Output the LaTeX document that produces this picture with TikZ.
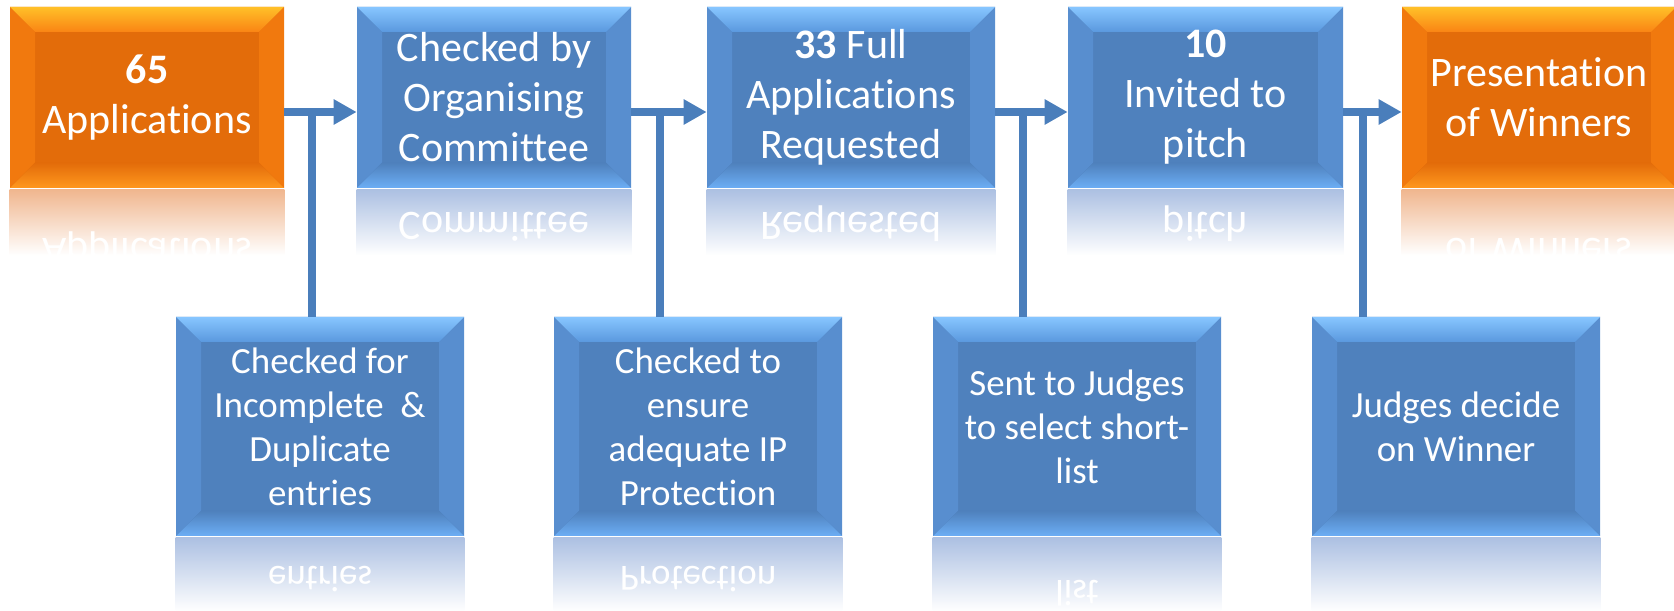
\documentclass[tikz,border=0pt]{standalone}
\usepackage{graphicx}
\usepackage{fontspec}
\setmainfont{Carlito}[Ligatures=NoCommon]
\usetikzlibrary{calc,arrows.meta}

\definecolor{bluemid}{RGB}{79,129,189}
\definecolor{bluetop}{RGB}{135,198,255}
\definecolor{blueupper}{RGB}{90,152,222}
\definecolor{bluebot}{RGB}{108,174,245}
\definecolor{blueside}{RGB}{88,142,207}
\definecolor{orangemid}{RGB}{227,108,10}
\definecolor{orangetop}{RGB}{255,192,40}
\definecolor{orangeupper}{RGB}{250,132,20}
\definecolor{orangebot}{RGB}{255,152,30}
\definecolor{orangeside}{RGB}{241,121,14}
\definecolor{reflblue}{RGB}{172,192,226}
\definecolor{reflorange}{RGB}{240,182,142}
\definecolor{linkblue}{RGB}{74,126,187}

\newcommand{\bevw}{0.5}
\newcommand{\topfont}{\fontsize{23.9}{28.45}\selectfont}
\newcommand{\lowfont}{\fontsize{21}{25}\selectfont}
% bevelled edges: top edge, top inner, bottom inner, bottom edge, sides
\newcommand{\bevels}[5]{%
  \fill[#5] (path picture bounding box.north west) -- ++(\bevw,-\bevw) -- ($(path picture bounding box.south west)+(\bevw,\bevw)$) -- (path picture bounding box.south west) -- cycle;
  \fill[#5] (path picture bounding box.north east) -- ++(-\bevw,-\bevw) -- ($(path picture bounding box.south east)+(-\bevw,\bevw)$) -- (path picture bounding box.south east) -- cycle;
  \fill[top color=#1,bottom color=#2] (path picture bounding box.north west) -- (path picture bounding box.north east) -- ++(-\bevw,-\bevw) -- ($(path picture bounding box.north west)+(\bevw,-\bevw)$) -- cycle;
  \fill[top color=#3,bottom color=#4] (path picture bounding box.south west) -- (path picture bounding box.south east) -- ++(-\bevw,\bevw) -- ($(path picture bounding box.south west)+(\bevw,\bevw)$) -- cycle;
}

\tikzset{
  bluebox/.style={fill=bluemid, path picture={\bevels{bluetop}{blueupper}{bluemid}{bluebot}{blueside}}},
  orangebox/.style={fill=orangemid, path picture={\bevels{orangetop}{orangeupper}{orangemid}{orangebot}{orangeside}}},
  topstage/.style={text=white, align=center, inner sep=0pt, font=\topfont, minimum width=5.48cm, minimum height=3.62cm},
  lowstage/.style={bluebox, text=white, align=center, inner sep=0pt, font=\lowfont, minimum width=5.76cm, minimum height=4.38cm},
  mirror/.style={text=white, inner sep=0pt, anchor=base},
  link/.style={draw=linkblue, line width=0.16cm},
  tip/.style={-{Triangle[length=0.46cm,width=0.48cm]}},
}

\begin{document}
\begin{tikzpicture}
    \useasboundingbox (0,0) rectangle (33.48,-12.22);

    % top row
    \node[topstage,orangebox] (app) at (2.94,-1.95) {\textbf{65}\\Applications};
    \node[topstage,bluebox] (check) at (9.88,-1.95) {Checked by\\Organising\\Committee};
    \node[topstage,bluebox,minimum width=5.76cm] (full) at (17.02,-1.95) {\textbf{33} Full\\Applications\\Requested};
    \node[topstage,bluebox,minimum width=5.5cm] (invite) at (24.11,-1.95) {\textbf{10}\\Invited to\\pitch};
    \node[topstage,orangebox] (present) at (30.78,-1.95) {Presentation\\of Winners};

    % bottom row
    \node[lowstage] (dupl) at (6.40,-8.53) {Checked for\\Incomplete\ \ \&\\Duplicate\\entries};
    \node[lowstage] (ipcheck) at (13.96,-8.53) {Checked to\\ensure\\adequate IP\\Protection};
    \node[lowstage] (judges) at (21.54,-8.53) {Sent to Judges\\to select short-\\list};
    \node[lowstage] (winner) at (29.12,-8.53) {Judges decide\\on Winner};

    % reflections
    \foreach \n/\c in {app/reflorange,check/reflblue,full/reflblue,invite/reflblue,present/reflorange}
        \fill[top color=\c,bottom color=white] ($(\n.south west)+(0,-0.02)$) rectangle ($(\n.south east)+(0,-1.34)$);
    \foreach \n in {dupl,ipcheck,judges,winner}
        \fill[top color=reflblue,bottom color=white] ($(\n.south west)+(0,-0.02)$) rectangle ($(\n.south east)+(0,-1.5)$);
    \node[mirror,font=\topfont] (app-m) at (2.94,-4.78) {\scalebox{1}[-1]{Applications}};
    \node[mirror,font=\topfont] (check-m) at (9.88,-4.26) {\scalebox{1}[-1]{Committee}};
    \node[mirror,font=\topfont] (full-m) at (17.02,-4.26) {\scalebox{1}[-1]{Requested}};
    \node[mirror,font=\topfont] (invite-m) at (24.11,-4.26) {\scalebox{1}[-1]{pitch}};
    \node[mirror,font=\topfont] (present-m) at (30.78,-4.78) {\scalebox{1}[-1]{of Winners}};
    \node[mirror,font=\lowfont] (dupl-m) at (6.40,-11.34) {\scalebox{1}[-1]{entries}};
    \node[mirror,font=\lowfont] (ipcheck-m) at (13.96,-11.34) {\scalebox{1}[-1]{Protection}};
    \node[mirror,font=\lowfont] (judges-m) at (21.54,-11.62) {\scalebox{1}[-1]{list}};

    % connectors
    \draw[link,tip] ([yshift=-0.29cm]app.east) -- ([yshift=-0.29cm]check.west);
    \draw[link,tip] ([yshift=-0.29cm]check.east) -- ([yshift=-0.29cm]full.west);
    \draw[link,tip] ([yshift=-0.29cm]full.east) -- ([yshift=-0.29cm]invite.west);
    \draw[link,tip] ([yshift=-0.29cm]invite.east) -- ([yshift=-0.29cm]present.west);
    \coordinate (t1) at ($(app.east)+(0.56,-0.29)$);
    \coordinate (t2) at ($(check.east)+(0.58,-0.29)$);
    \coordinate (t3) at ($(full.east)+(0.56,-0.29)$);
    \coordinate (t4) at ($(invite.east)+(0.40,-0.29)$);
    \draw[link] (t1) -- (t1 |- dupl.north);
    \draw[link] (t2) -- (t2 |- ipcheck.north);
    \draw[link] (t3) -- (t3 |- judges.north);
    \draw[link] (t4) -- (t4 |- winner.north);
\end{tikzpicture}
\end{document}
